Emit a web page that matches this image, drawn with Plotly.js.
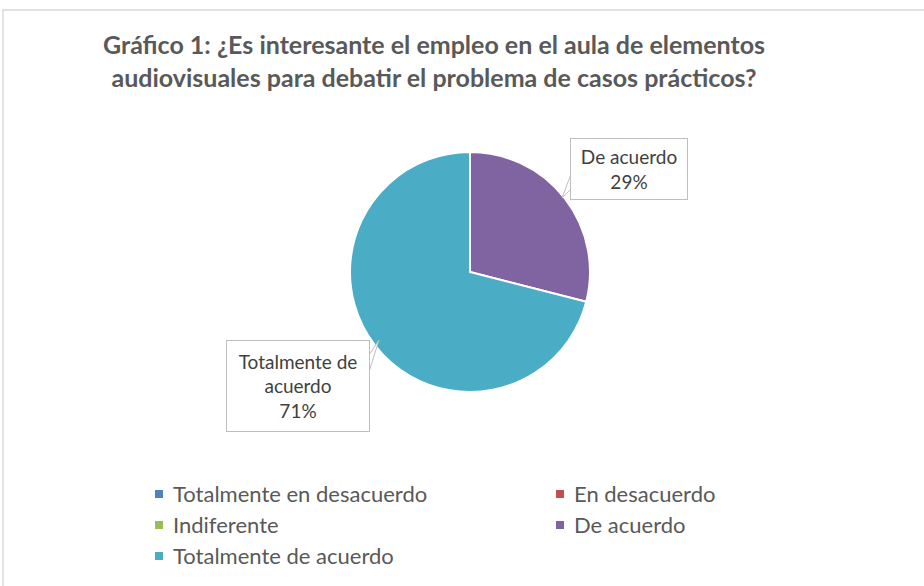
<!DOCTYPE html>
<html><head><meta charset="utf-8">
<script src="https://cdn.plot.ly/plotly-3.0.1.min.js"></script>
<style>body{margin:0;background:#fff}#chart{width:924px;height:586px}</style>
</head><body><div id="chart"></div>
<script>
const categories = ["Totalmente en desacuerdo","En desacuerdo","Indiferente","De acuerdo","Totalmente de acuerdo"];
const values = [0, 0, 0, 29, 71];
const colors = ["#4F81BD","#C0504D","#9BBB59","#8064A2","#4BACC6"];
const titleLines = ["Gráfico 1: ¿Es interesante el empleo en el aula de elementos","audiovisuales para debatir el problema de casos prácticos?"];
const W = 924, H = 586;
const px = x => x / W, py = y => 1 - y / H;
const font = "Lato, 'Open Sans', sans-serif";

const trace = {
  type: "pie", labels: categories, values: values, sort: false, direction: "clockwise", rotation: 0,
  marker: {colors: colors, line: {color: "#fff", width: 2}},
  textinfo: "none", hoverinfo: "label+percent", showlegend: false,
  domain: {x: [px(350), px(590)], y: [py(392), py(152)]}
};
const total = values.reduce((a,b)=>a+b,0);
const pct = v => Math.round(v/total*100) + "%";

const annotations = [
  {text: titleLines.join("<br>"), x: px(434), y: py(27), xref: "paper", yref: "paper", xanchor: "center", yanchor: "top",
    showarrow: false, font: {size: 25, color: "#595959", family: font, weight: "bold"}},
  {text: categories[3] + "<br>" + pct(values[3]), x: px(629), y: py(169), xref: "paper", yref: "paper",
    xanchor: "center", yanchor: "middle",
    showarrow: false, font: {size: 19, color: "#404040", family: font}, bordercolor: "#bfbfbf", borderwidth: 1,
    bgcolor: "#fff", width: 114, height: 58, borderpad: 1},
  {text: "Totalmente de<br>" + "acuerdo<br>" + pct(values[4]), x: px(298), y: py(386), xref: "paper", yref: "paper",
    xanchor: "center", yanchor: "middle",
    showarrow: false, font: {size: 19, color: "#404040", family: font}, bordercolor: "#bfbfbf", borderwidth: 1,
    bgcolor: "#fff", width: 140, height: 88, borderpad: 1}
];
const shapes = [
  {type: "rect", xref: "paper", yref: "paper", x0: px(3), x1: px(930), y0: py(592), y1: py(10), line: {color: "#d9d9d9", width: 1.5}},
  {type: "path", xref: "paper", yref: "paper",
    path: `M ${px(571)} ${py(174)} L ${px(562)} ${py(198)} L ${px(571)} ${py(189)}`, line: {color: "#bfbfbf", width: 1}, fillcolor: "#fff"},
  {type: "path", xref: "paper", yref: "paper",
    path: `M ${px(369)} ${py(355)} L ${px(379)} ${py(340)} L ${px(369)} ${py(372)}`, line: {color: "#bfbfbf", width: 1}, fillcolor: "#fff"}
];
// legend built from categories/colors (two columns)
categories.forEach((c, i) => {
  const col = i % 2, row = Math.floor(i / 2);
  const mx = col === 0 ? 155 : 556, cy = 493 + row * 31;
  shapes.push({type: "rect", xref: "paper", yref: "paper", x0: px(mx), x1: px(mx + 8), y0: py(cy + 5), y1: py(cy - 3),
    fillcolor: colors[i], line: {width: 0}});
  annotations.push({text: c, x: px(mx + 16), y: py(cy), xref: "paper", yref: "paper", xanchor: "left", yanchor: "middle",
    showarrow: false, font: {size: 22, color: "#595959", family: font}});
});

const layout = {
  width: W, height: H, margin: {l:0,r:0,t:0,b:0},
  paper_bgcolor: "#fff", showlegend: false,
  font: {family: font, color: "#595959"},
  annotations: annotations, shapes: shapes
};
Plotly.newPlot("chart", [trace], layout, {displayModeBar: false});
</script></body></html>
